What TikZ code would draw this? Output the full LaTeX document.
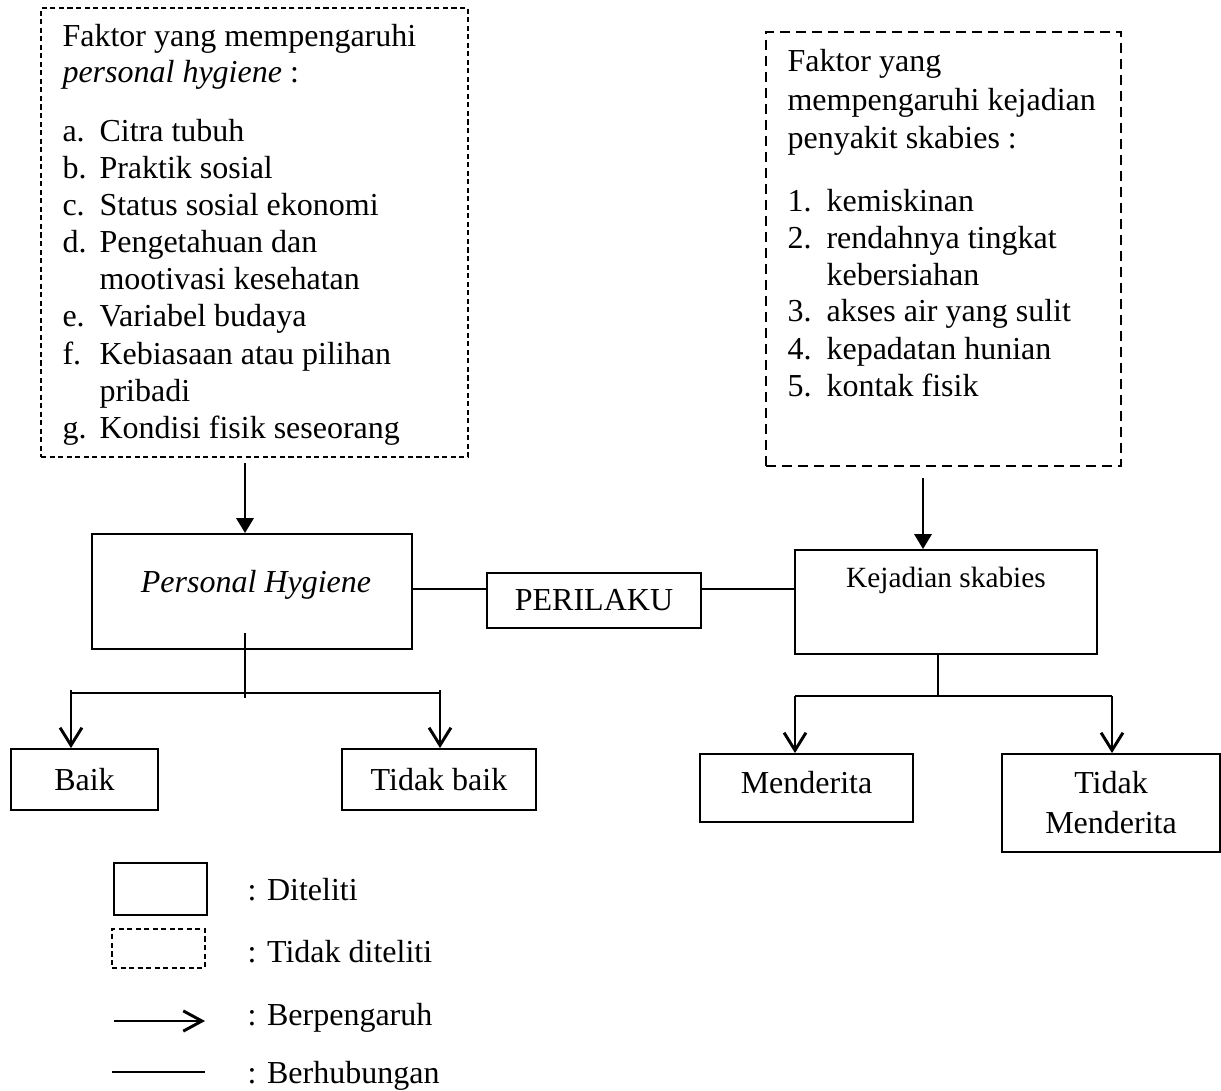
\documentclass[tikz,border=0pt]{standalone}
\usepackage{fontspec}
\setmainfont{Liberation Serif}
\usetikzlibrary{arrows.meta}
\tikzset{
  wh/.style 2 args={minimum width=#1*0.375pt,minimum height=#2*0.375pt},
  solidbox/.style={draw=black,line width=0.7pt,inner sep=0pt,rectangle},
  thindash/.style={draw=black,line width=0.45pt,dash pattern=on 1.9pt off 1.3pt,inner sep=0pt,rectangle},
  thickdash/.style={draw=black,line width=1.1pt,dash pattern=on 3.75pt off 2.25pt,inner sep=0pt,rectangle},
  txt/.style={inner sep=0pt,anchor=base west,font=\fontsize{12pt}{13.8pt}\selectfont},
  ctxt/.style={inner sep=0pt,anchor=base,font=\fontsize{12pt}{13.8pt}\selectfont},
  farr/.style={line width=1.1pt,-{Triangle[length=5.6pt,width=6.4pt]}},
  oarr/.style={line width=1.1pt,-{Straight Barb[length=6.6pt,width=8.2pt,line width=1.1pt]}},
  relline/.style={line width=0.5pt},
  treeline/.style={line width=0.85pt},
}
\begin{document}
\begin{tikzpicture}[x=0.375pt,y=-0.375pt]
\useasboundingbox (0,0) rectangle (1221,1090);
\fontsize{12pt}{13.8pt}\selectfont

% dashed factor boxes
\node[thindash,wh={427}{449}] (ld) at (254.5,232.5) {};
\node[thickdash,wh={355}{434}] (rd) at (943.5,249) {};

% left box text
\node[txt] (lh1) at (62,47) {Faktor yang mempengaruhi};
\node[txt] (lh2) at (62,83) {\textit{personal hygiene} :};
\foreach \yy/\lab [count=\i] in {142/a., 179/b., 216/c., 253/d., 327/e., 364/f., 438/g.}
  \node[txt] (la\i) at (62,\yy) {\lab};
\foreach \yy/\t [count=\i] in {142/Citra tubuh, 179/Praktik sosial, 216/Status sosial ekonomi, 253/Pengetahuan dan, 290/mootivasi kesehatan, 327/Variabel budaya, 364/Kebiasaan atau pilihan, 401/pribadi, 438/Kondisi fisik seseorang}
  \node[txt] (lt\i) at (99,\yy) {\t};

% right box text
\node[txt] (rh1) at (787,72) {Faktor yang};
\node[txt] (rh2) at (787,111) {mempengaruhi kejadian};
\node[txt] (rh3) at (787,149) {penyakit skabies :};
\foreach \yy/\lab [count=\i] in {212/1., 249/2., 322/3., 359/4., 396/5.}
  \node[txt] (ra\i) at (787,\yy) {\lab};
\foreach \yy/\t [count=\i] in {212/kemiskinan, 249/rendahnya tingkat, 286/kebersiahan, 322/akses air yang sulit, 359/kepadatan hunian, 396/kontak fisik}
  \node[txt] (rt\i) at (826,\yy) {\t};

% main boxes
\node[solidbox,wh={320}{115}] (ph) at (252,591.5) {};
\node[ctxt] (phtext) at (256,592) {\textit{Personal Hygiene}};
\node[solidbox,wh={214}{55}] (per) at (594,600.5) {PERILAKU};
\node[solidbox,wh={302}{104}] (kej) at (946,602) {};
\node[ctxt,font=\fontsize{11pt}{13pt}\selectfont] (kejtext) at (946,587) {Kejadian skabies};
\node[solidbox,wh={147}{61}] (baik) at (84.5,779.5) {Baik};
\node[solidbox,wh={194}{61}] (tb) at (439,779.5) {Tidak baik};
\node[solidbox,wh={213}{68}] (men) at (806.5,788) {};
\node[ctxt] (mentext) at (806.5,793) {Menderita};
\node[solidbox,wh={218}{98},align=center] (tm) at (1111,803) {Tidak\\[1.2pt]Menderita};

% influence arrows from factor boxes
\coordinate (a1) at (245,463);
\coordinate (a2) at (923,478);
\draw[farr] (a1) -- (a1 |- ph.north);
\draw[farr] (a2) -- (a2 |- kej.north);

% relation lines via PERILAKU
\coordinate (ly) at (0,589);
\draw[relline] (ph.east |- ly) -- (per.west |- ly);
\draw[relline] (per.east |- ly) -- (kej.west |- ly);

% left tree
\coordinate (lv1) at (245,633);
\coordinate (lv2) at (245,698);
\coordinate (ll) at (71,693);
\coordinate (lr) at (440,693);
\draw[line width=1.1pt] (lv1) -- (lv2);
\draw[treeline] (ll) -- (lr);
\draw[oarr] ([yshift=1.2pt]ll) -- (ll |- baik.north);
\draw[oarr] ([yshift=1.2pt]lr) -- (lr |- tb.north);

% right tree
\coordinate (rv) at (938,696);
\coordinate (rl) at (795,696);
\coordinate (rr) at (1112,696);
\draw[line width=0.65pt] (rv |- kej.south) -- (rv);
\draw[treeline] (rl) -- (rr);
\draw[oarr] (rl) -- (rl |- men.north);
\draw[oarr] (rr) -- (rr |- tm.north);

% legend
\node[solidbox,wh={93}{52}] (lg1) at (160.5,889) {};
\node[thindash,wh={93}{39}] (lg2) at (158.5,948.5) {};
\coordinate (lg3a) at (114,1021);
\coordinate (lg3b) at (205,1021);
\coordinate (lg4a) at (112,1072);
\coordinate (lg4b) at (205,1072);
\draw[line width=1.1pt,-{Straight Barb[length=7pt,width=7.6pt,line width=1.1pt]}] (lg3a) -- (lg3b);
\draw[line width=0.75pt] (lg4a) -- (lg4b);
\node[txt] (lgt1) at (247,900) {: Diteliti};
\node[txt] (lgt2) at (247,962) {: Tidak diteliti};
\node[txt] (lgt3) at (247,1025) {: Berpengaruh};
\node[txt] (lgt4) at (247,1083) {: Berhubungan};
\end{tikzpicture}
\end{document}
